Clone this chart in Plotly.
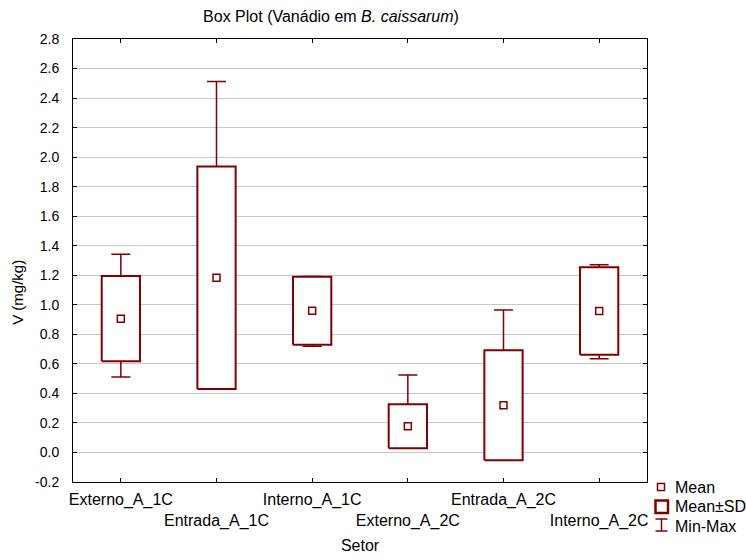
import plotly.graph_objects as go

# Vanadium concentration (mg/kg) per sector: mean, standard deviation, min and max
setores = ["Externo_A_1C", "Entrada_A_1C", "Interno_A_1C",
           "Externo_A_2C", "Entrada_A_2C", "Interno_A_2C"]
media = [0.906, 1.183, 0.960, 0.178, 0.320, 0.958]
desvio = [0.289, 0.753, 0.230, 0.149, 0.372, 0.296]
minimo = [0.511, 0.430, 0.720, 0.030, -0.052, 0.635]
maximo = [1.342, 2.513, 1.191, 0.524, 0.964, 1.272]

y_ticks = [-0.2, 0.0, 0.2, 0.4, 0.6, 0.8, 1.0, 1.2, 1.4, 1.6, 1.8, 2.0, 2.2, 2.4, 2.6, 2.8]

RED = "#800000"
FONT = "Liberation Sans, Arial, sans-serif"
BOX_HALF = 0.2

pos = list(range(1, len(setores) + 1))

fig = go.Figure()

# Min-Max whiskers (drawn first so the boxes cover the inner part)
fig.add_trace(go.Scatter(
    x=pos, y=media, mode="markers",
    marker=dict(size=1, opacity=0),
    error_y=dict(type="data", symmetric=False,
                 array=[mx - m for mx, m in zip(maximo, media)],
                 arrayminus=[m - mn for m, mn in zip(media, minimo)],
                 color=RED, thickness=1.5, width=9.5),
    showlegend=False, hoverinfo="skip",
))

# Mean ± SD boxes
bx, by = [], []
for p, m, s in zip(pos, media, desvio):
    lo, hi = m - s, m + s
    bx += [p - BOX_HALF, p + BOX_HALF, p + BOX_HALF, p - BOX_HALF, p - BOX_HALF, None]
    by += [lo, lo, hi, hi, lo, None]
fig.add_trace(go.Scatter(
    x=bx, y=by, mode="lines", fill="toself", fillcolor="white",
    line=dict(color=RED, width=2), showlegend=False, hoverinfo="skip",
))

# Means
fig.add_trace(go.Scatter(
    x=pos, y=media, mode="markers",
    marker=dict(symbol="square", size=7, color="white",
                line=dict(color=RED, width=1.5)),
    showlegend=False,
))

# Staggered category labels
tick_text = [s if i % 2 == 0 else "<br>" + s for i, s in enumerate(setores)]

fig.update_xaxes(
    range=[0.5, 6.5], tickvals=pos, ticktext=tick_text, tickangle=0,
    automargin=False,
    showgrid=False, zeroline=False,
    showline=True, linecolor="black", linewidth=1, mirror="ticks",
    ticks="inside", ticklen=4, tickcolor="black",
    tickfont=dict(family=FONT, size=16, color="black"),
    ticklabelstandoff=3,
    title=dict(text="Setor", font=dict(family=FONT, size=16, color="black"), standoff=10),
)
fig.update_yaxes(
    range=[-0.2, 2.8], tickvals=y_ticks,
    ticktext=[f"{v:.1f}" for v in y_ticks],
    automargin=False,
    showgrid=True, gridcolor="#c8c8c8", gridwidth=1, zeroline=False,
    showline=True, linecolor="black", linewidth=1, mirror="ticks",
    ticks="inside", ticklen=4, tickcolor="black",
    tickfont=dict(family=FONT, size=14, color="black"),
    ticklabelstandoff=10,
)

# Legend glyphs beside the plot, anchored to its bottom-right corner
shapes = [
    dict(type="rect", xref="paper", yref="paper", xsizemode="pixel", ysizemode="pixel",
         xanchor=1, yanchor=0, x0=10.5, x1=17.5, y0=-8.5, y1=-1.5,
         line=dict(color=RED, width=1.5), fillcolor="white"),
    dict(type="rect", xref="paper", yref="paper", xsizemode="pixel", ysizemode="pixel",
         xanchor=1, yanchor=0, x0=8.5, x1=21, y0=-31, y1=-18.5,
         line=dict(color=RED, width=2.5), fillcolor="white"),
    dict(type="line", xref="paper", yref="paper", xsizemode="pixel", ysizemode="pixel",
         xanchor=1, yanchor=0, x0=14.5, x1=14.5, y0=-37, y1=-49,
         line=dict(color=RED, width=1.5)),
    dict(type="line", xref="paper", yref="paper", xsizemode="pixel", ysizemode="pixel",
         xanchor=1, yanchor=0, x0=8.5, x1=20.5, y0=-37, y1=-37,
         line=dict(color=RED, width=1.5)),
    dict(type="line", xref="paper", yref="paper", xsizemode="pixel", ysizemode="pixel",
         xanchor=1, yanchor=0, x0=8.5, x1=20.5, y0=-49, y1=-49,
         line=dict(color=RED, width=1.5)),
]
legend_labels = [("Mean", -5), ("Mean±SD", -24), ("Min-Max", -44)]
annotations = [
    dict(text=t, xref="paper", yref="paper", x=1, y=0, xanchor="left", yanchor="middle",
         xshift=26, yshift=dy, showarrow=False,
         font=dict(family=FONT, size=16, color="black"))
    for t, dy in legend_labels
]
# Y axis title, rotated, placed left of the tick labels
annotations.append(dict(
    text="V (mg/kg)", xref="paper", yref="paper", x=0, y=0.427,
    xanchor="center", yanchor="middle", xshift=-55, textangle=-90,
    showarrow=False, font=dict(family=FONT, size=15, color="black"),
))

fig.update_layout(
    width=746, height=560,
    margin=dict(l=73, r=99, t=39, b=78),
    paper_bgcolor="white", plot_bgcolor="white",
    font=dict(family=FONT, color="black"),
    title=dict(text="Box Plot (Vanádio em <i>B. caissarum</i>)",
               xref="container", yref="container", x=0.4437, y=0.9714,
               xanchor="center", yanchor="middle",
               font=dict(family=FONT, size=16, color="black")),
    shapes=shapes, annotations=annotations,
    showlegend=False,
)

fig.write_html("out.html")
